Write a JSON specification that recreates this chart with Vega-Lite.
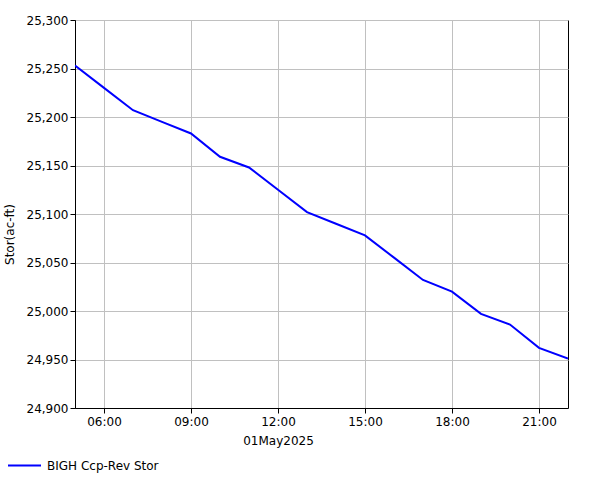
{
  "$schema": "https://vega.github.io/schema/vega-lite/v6.json",
  "width": 493,
  "height": 388,
  "autosize": {"type": "none"},
  "padding": {"left": 75, "top": 20, "right": 33, "bottom": 72},
  "background": "white",
  "config": {
    "font": "DejaVu Sans",
    "view": {"stroke": "black", "strokeWidth": 1},
    "axis": {
      "labelFont": "DejaVu Sans",
      "labelFontSize": 12,
      "labelColor": "black",
      "titleFont": "DejaVu Sans",
      "titleFontSize": 12,
      "titleFontWeight": "normal",
      "titleColor": "black",
      "domainColor": "black",
      "tickColor": "black",
      "tickSize": 5,
      "gridColor": "#c0c0c0",
      "gridOpacity": 1,
      "gridWidth": 1
    }
  },
  "data": {
    "values": [
      {"t": "2025-05-01T05:00:00Z", "v": 25253, "s": "BIGH Ccp-Rev Stor"},
      {"t": "2025-05-01T06:00:00Z", "v": 25230, "s": "BIGH Ccp-Rev Stor"},
      {"t": "2025-05-01T07:00:00Z", "v": 25207, "s": "BIGH Ccp-Rev Stor"},
      {"t": "2025-05-01T08:00:00Z", "v": 25195, "s": "BIGH Ccp-Rev Stor"},
      {"t": "2025-05-01T09:00:00Z", "v": 25183, "s": "BIGH Ccp-Rev Stor"},
      {"t": "2025-05-01T10:00:00Z", "v": 25159, "s": "BIGH Ccp-Rev Stor"},
      {"t": "2025-05-01T11:00:00Z", "v": 25148, "s": "BIGH Ccp-Rev Stor"},
      {"t": "2025-05-01T12:00:00Z", "v": 25125, "s": "BIGH Ccp-Rev Stor"},
      {"t": "2025-05-01T13:00:00Z", "v": 25102, "s": "BIGH Ccp-Rev Stor"},
      {"t": "2025-05-01T14:00:00Z", "v": 25090, "s": "BIGH Ccp-Rev Stor"},
      {"t": "2025-05-01T15:00:00Z", "v": 25078, "s": "BIGH Ccp-Rev Stor"},
      {"t": "2025-05-01T16:00:00Z", "v": 25055, "s": "BIGH Ccp-Rev Stor"},
      {"t": "2025-05-01T17:00:00Z", "v": 25032, "s": "BIGH Ccp-Rev Stor"},
      {"t": "2025-05-01T18:00:00Z", "v": 25020, "s": "BIGH Ccp-Rev Stor"},
      {"t": "2025-05-01T19:00:00Z", "v": 24997, "s": "BIGH Ccp-Rev Stor"},
      {"t": "2025-05-01T20:00:00Z", "v": 24986, "s": "BIGH Ccp-Rev Stor"},
      {"t": "2025-05-01T21:00:00Z", "v": 24962, "s": "BIGH Ccp-Rev Stor"},
      {"t": "2025-05-01T22:00:00Z", "v": 24951, "s": "BIGH Ccp-Rev Stor"}
    ]
  },
  "mark": {"type": "line", "strokeWidth": 2, "clip": true},
  "encoding": {
    "x": {
      "field": "t",
      "type": "temporal",
      "scale": {
        "type": "utc",
        "domain": [
          {"year": 2025, "month": 5, "date": 1, "hours": 5, "utc": true},
          {"year": 2025, "month": 5, "date": 1, "hours": 22, "utc": true}
        ],
        "nice": false
      },
      "axis": {
        "title": "01May2025",
        "format": "%H:%M",
        "values": [
          {"year": 2025, "month": 5, "date": 1, "hours": 6, "utc": true},
          {"year": 2025, "month": 5, "date": 1, "hours": 9, "utc": true},
          {"year": 2025, "month": 5, "date": 1, "hours": 12, "utc": true},
          {"year": 2025, "month": 5, "date": 1, "hours": 15, "utc": true},
          {"year": 2025, "month": 5, "date": 1, "hours": 18, "utc": true},
          {"year": 2025, "month": 5, "date": 1, "hours": 21, "utc": true}
        ],
        "labelPadding": 3,
        "labelFlush": false,
        "titleX": 203,
        "titleY": 32,
        "titleAlign": "center",
        "titleBaseline": "middle",
        "titleAnchor": null
      }
    },
    "y": {
      "field": "v",
      "type": "quantitative",
      "scale": {"domain": [24900, 25300], "nice": false, "zero": false},
      "axis": {
        "title": "Stor(ac-ft)",
        "format": ",d",
        "values": [24900, 24950, 25000, 25050, 25100, 25150, 25200, 25250, 25300],
        "labelPadding": 2,
        "labelFlush": false,
        "titleX": -66,
        "titleY": 214,
        "titleAngle": -90,
        "titleAlign": "center",
        "titleBaseline": "middle"
      }
    },
    "color": {
      "field": "s",
      "type": "nominal",
      "scale": {"domain": ["BIGH Ccp-Rev Stor"], "range": ["#0000ff"]},
      "legend": {
        "title": null,
        "orient": "none",
        "legendX": -68,
        "legendY": 428,
        "symbolType": "stroke",
        "symbolSize": 1089,
        "symbolStrokeWidth": 2,
        "labelFont": "DejaVu Sans",
        "labelFontSize": 12,
        "labelColor": "black",
        "labelOffset": 5,
        "padding": 0
      }
    }
  }
}
